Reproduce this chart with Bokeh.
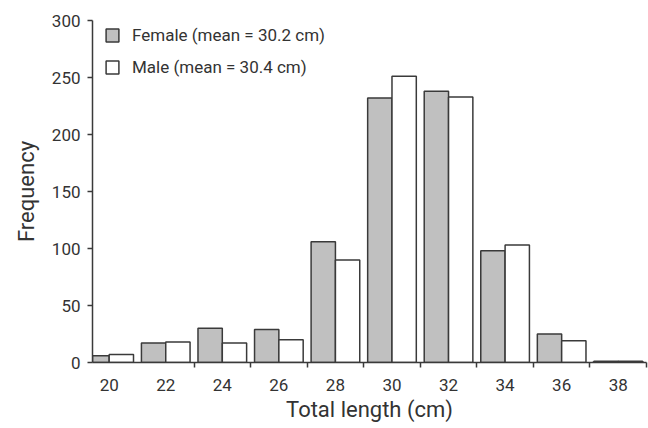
from bokeh.plotting import figure
from bokeh.models import ColumnDataSource, FixedTicker, Range1d, Legend, LegendItem
from bokeh.embed import file_html
from bokeh.resources import INLINE

# Data
lengths = [20, 22, 24, 26, 28, 30, 32, 34, 36, 38]
female = [6, 17, 30, 29, 106, 232, 238, 98, 25, 1]
male = [7, 18, 17, 20, 90, 251, 233, 103, 19, 1]
y_ticks = [0, 50, 100, 150, 200, 250, 300]
female_label = "Female (mean = 30.2 cm)"
male_label = "Male (mean = 30.4 cm)"

FONT = "Roboto"
TXT = "#333333"
EDGE = "#3a3a3a"

bar_w = 0.86
src_f = ColumnDataSource(dict(x=[v - bar_w / 2 for v in lengths], top=female))
src_m = ColumnDataSource(dict(x=[v + bar_w / 2 for v in lengths], top=male))

p = figure(width=648, height=428, output_backend="svg", toolbar_location=None,
           x_range=Range1d(19.41, 39.0), y_range=Range1d(0, 300),
           min_border_left=92, min_border_right=2, min_border_top=20, min_border_bottom=66)
p.outline_line_color = None
p.xgrid.visible = False
p.ygrid.visible = False

rf = p.vbar(x="x", top="top", width=bar_w, bottom=0, source=src_f,
            fill_color="#c0c0c0", line_color=EDGE, line_width=1.5)
rm = p.vbar(x="x", top="top", width=bar_w, bottom=0, source=src_m,
            fill_color="white", line_color=EDGE, line_width=1.5)

# x axis: labels at group centres, tick marks at group boundaries
boundaries = [v + 1 for v in lengths[1:]]
p.xaxis.ticker = FixedTicker(ticks=lengths, minor_ticks=boundaries)
p.xaxis.major_tick_out = 0
p.xaxis.major_tick_in = 0
p.xaxis.minor_tick_out = 5
p.xaxis.minor_tick_in = 0
p.xaxis.minor_tick_line_color = EDGE
p.xaxis.minor_tick_line_width = 1.5
p.xaxis.major_label_standoff = 11
p.xaxis.axis_label = "Total length (cm)"
p.xaxis.axis_label_standoff = 3

p.yaxis.ticker = FixedTicker(ticks=y_ticks)
p.yaxis.minor_tick_line_color = None
p.yaxis.major_tick_out = 5
p.yaxis.major_tick_in = 0
p.yaxis.major_label_standoff = 7
p.yaxis.axis_label = "Frequency"
p.yaxis.axis_label_standoff = 10

for ax in (p.xaxis, p.yaxis):
    ax.axis_line_color = EDGE
    ax.axis_line_width = 1.5
    ax.major_tick_line_color = EDGE
    ax.major_tick_line_width = 1.5
    ax.major_label_text_font = FONT
    ax.major_label_text_font_size = "17px"
    ax.major_label_text_color = TXT
    ax.axis_label_text_font = FONT
    ax.axis_label_text_font_size = "22px"
    ax.axis_label_text_font_style = "normal"
    ax.axis_label_text_color = TXT

legend = Legend(items=[LegendItem(label=female_label, renderers=[rf]),
                       LegendItem(label=male_label, renderers=[rm])],
                location=(12, 285), margin=0, padding=0,
                glyph_width=16, glyph_height=16, spacing=12,
                label_standoff=12, label_text_font=FONT,
                label_text_font_size="17px", label_text_color=TXT,
                label_height=16,
                border_line_color=None, background_fill_alpha=0)
p.add_layout(legend)

open("out.html", "w").write(file_html(p, INLINE))
